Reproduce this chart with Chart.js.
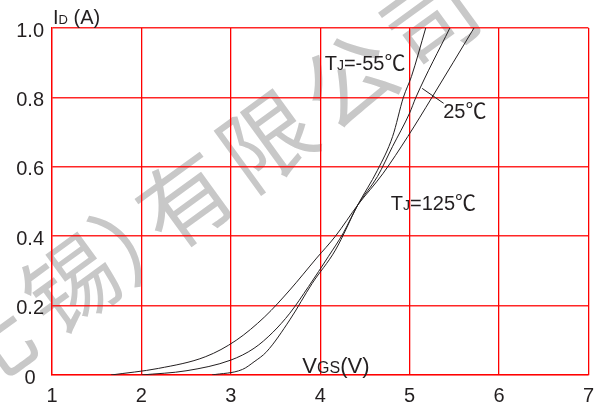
<!DOCTYPE html>
<html>
<head>
<meta charset="utf-8">
<script src="https://cdn.jsdelivr.net/npm/chart.js@4"></script>
<style>
html,body{margin:0;padding:0;background:#fff;}
#wrap{width:603px;height:408px;position:relative;}
</style>
</head>
<body>
<div id="wrap"><canvas id="c" width="603" height="408"></canvas></div>
<script>
// ---- data ----
const vgs125 = [1.66, 2.19, 2.72, 3.06, 3.38, 3.66, 3.96, 4.17, 4.42, 4.70, 4.98, 5.25, 5.72];
const id125  = [0, 0.019, 0.053, 0.10, 0.168, 0.245, 0.337, 0.40, 0.49, 0.58, 0.6875, 0.80, 1.0];

const vgs25 = [2.0, 2.51, 3.0, 3.26, 3.47, 3.66, 3.87, 4.09, 4.26, 4.42, 4.64, 4.81, 5.0, 5.07, 5.45];
const id25  = [0, 0.0125, 0.043, 0.077, 0.123, 0.178, 0.255, 0.341, 0.41, 0.49, 0.572, 0.659, 0.755, 0.80, 1.0];

const vgsM55 = [2.79, 3.13, 3.26, 3.40, 3.66, 3.91, 4.17, 4.42, 4.64, 4.81, 4.93, 5.02, 5.18];
const idM55  = [0, 0.016, 0.038, 0.067, 0.159, 0.264, 0.36, 0.49, 0.59, 0.6875, 0.80, 0.86, 1.0];

const xTicks = [1, 2, 3, 4, 5, 6, 7];
const yTicks = [0, 0.2, 0.4, 0.6, 0.8, 1.0];

const curveLabels = [
  {main: 'T', sub: 'J', rest: '=-55', x: 4.05, y: 0.879},
  {main: '', sub: '', rest: '25', x: 5.376, y: 0.741},
  {main: 'T', sub: 'J', rest: '=125', x: 4.79, y: 0.476}
];
const leaderLine = [{x: 5.14, y: 0.826}, {x: 5.38, y: 0.783}];
// watermark characters and their step index along the slanted line
const watermarkChars = ['无', '锡', '）', '有', '限', '公', '司'];
const watermarkSteps = [-2.45, -1.4, -0.5, 0, 1, 2, 3];

const zip = (xs, ys) => xs.map((x, i) => ({x: x, y: ys[i]}));

const INK = '#231f20';
const FONT = 'Arial, "Liberation Sans", Helvetica, sans-serif';
const CJK = '"Noto Sans CJK SC", sans-serif';

const decor = {
  id: 'decor',
  beforeDraw(chart) {
    const ctx = chart.ctx;
    ctx.save();
    ctx.fillStyle = '#fff';
    ctx.fillRect(0, 0, chart.width, chart.height);
    // watermark
    const ox = 185, oy = 200, sx = 81.7, sy = -60;
    ctx.font = '92px ' + CJK;
    ctx.fillStyle = '#c8c8c8';
    ctx.textAlign = 'center';
    ctx.textBaseline = 'middle';
    watermarkChars.forEach((ch, i) => {
      const t = watermarkSteps[i];
      ctx.save();
      ctx.translate(ox + t * sx, oy + t * sy);
      ctx.rotate(-36 * Math.PI / 180);
      ctx.fillText(ch, 0, 0);
      ctx.restore();
    });
    ctx.restore();
  },
  afterDraw(chart) {
    const ctx = chart.ctx;
    const xs = chart.scales.x, ys = chart.scales.y;
    const area = chart.chartArea;
    ctx.save();
    ctx.fillStyle = INK;
    ctx.textBaseline = 'alphabetic';
    ctx.textAlign = 'left';
    const seg = (parts, x, y) => {
      let cx = x;
      for (const p of parts) {
        if (!p[0]) continue;
        ctx.font = p[1] + 'px ' + (p[2] || FONT);
        ctx.fillText(p[0], cx, y);
        cx += ctx.measureText(p[0]).width;
      }
    };
    // y title
    seg([['I', 20], ['D', 13], [' (A)', 20]], area.left + 1, area.top - 4);
    // x title
    seg([['V', 22], ['GS', 16], ['(V)', 22]], xs.getPixelForValue(3.80), ys.getPixelForValue(0.006));
    // curve labels
    for (const l of curveLabels) {
      seg([[l.main, 20], [l.sub, 14], [l.rest, 20], ['℃', 21, CJK]],
          xs.getPixelForValue(l.x), ys.getPixelForValue(l.y));
    }
    // leader line
    ctx.strokeStyle = INK;
    ctx.lineWidth = 1;
    ctx.beginPath();
    ctx.moveTo(xs.getPixelForValue(leaderLine[0].x), ys.getPixelForValue(leaderLine[0].y));
    ctx.lineTo(xs.getPixelForValue(leaderLine[1].x), ys.getPixelForValue(leaderLine[1].y));
    ctx.stroke();
    ctx.restore();
  }
};

const lineStyle = {
  showLine: true, borderColor: INK, borderWidth: 1, pointRadius: 0,
  cubicInterpolationMode: 'monotone', fill: false
};

new Chart(document.getElementById('c'), {
  type: 'scatter',
  data: {
    datasets: [
      Object.assign({label: 'TJ=125℃', data: zip(vgs125, id125)}, lineStyle),
      Object.assign({label: '25℃', data: zip(vgs25, id25)}, lineStyle),
      Object.assign({label: 'TJ=-55℃', data: zip(vgsM55, idM55)}, lineStyle)
    ]
  },
  options: {
    responsive: false,
    animation: false,
    devicePixelRatio: 1,
    layout: {padding: {left: 0, right: 8, top: 28, bottom: 0}},
    plugins: {legend: {display: false}, tooltip: {enabled: false}},
    scales: {
      x: {
        type: 'linear', min: 1, max: 7,
        afterBuildTicks: s => { s.ticks = xTicks.map(v => ({value: v})); },
        afterFit: s => { s.height = 33; },
        grid: {color: 'rgb(255,0,0)', lineWidth: 1.3, drawTicks: false},
        border: {color: 'rgb(255,0,0)', width: 1.3},
        ticks: {color: INK, font: {family: FONT, size: 20}, padding: 9, maxRotation: 0}
      },
      y: {
        type: 'linear', min: 0, max: 1,
        afterBuildTicks: s => { s.ticks = yTicks.map(v => ({value: v})); },
        afterFit: s => { s.width = 52; },
        grid: {color: 'rgba(255,0,0,0.85)', lineWidth: 1.6, drawTicks: false},
        border: {color: 'rgb(255,0,0)', width: 1.3},
        ticks: {
          color: INK, font: {family: FONT, size: 20}, padding: 8, crossAlign: 'center', labelOffset: 3,
          callback: v => v === 0 ? '0' : v.toFixed(1)
        }
      }
    }
  },
  plugins: [decor]
});
</script>
</body>
</html>
